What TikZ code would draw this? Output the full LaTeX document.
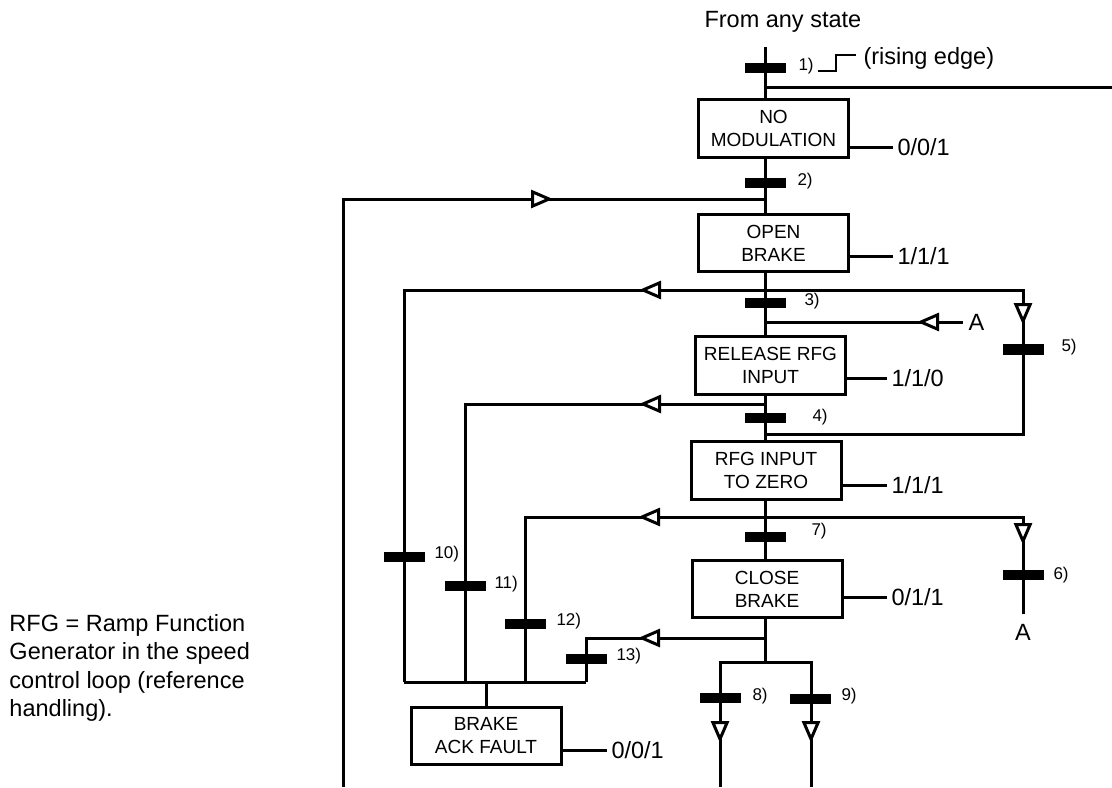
\documentclass[tikz,border=0pt]{standalone}
\usepackage{fontspec}
\setmainfont{Liberation Sans}
\usetikzlibrary{arrows.meta, decorations.markings}

\begin{document}
\begin{tikzpicture}[
    x=0.5pt, y=-0.5pt,
    line width=1.5pt,
    font=\fontsize{11.75}{14.2}\selectfont,
    state/.style={draw, fill=white, minimum width=75pt, minimum height=28.6pt,
        inner sep=0pt, align=center, font=\fontsize{9.5}{11.5}\selectfont},
    trans/.style={fill=black, minimum width=20.5pt, minimum height=5.25pt, inner sep=0pt},
    tlabel/.style={anchor=west, inner sep=0pt, font=\fontsize{8.5}{10}\selectfont},
    outval/.style={anchor=west, inner sep=1.5pt},
    tipat/.style={postaction={decorate}, decoration={markings,
        mark=at position #1 with {\arrow{Triangle[fill=white, length=11pt, width=9pt]}}}},
]
\useasboundingbox (0,0) rectangle (1112,787);

% ---- states ----
\node[state] (nomod)  at (773.5,128.5) {NO\\MODULATION};
\node[state] (openb)  at (773.5,243)   {OPEN\\BRAKE};
\node[state] (relin)  at (770.5,365.5) {RELEASE RFG\\INPUT};
\node[state] (rfgz)   at (766,470.5)   {RFG INPUT\\TO ZERO};
\node[state] (closeb) at (767,589)     {CLOSE\\BRAKE};
\node[state] (ackf)   at (486,736)     {BRAKE\\ACK FAULT};

% ---- transitions ----
\foreach \i/\x/\y/\lx/\ly in {1/765/68/797/66, 2/765/183/796/181, 3/765/303/803/301,
    4/765/418/811/417, 5/1023/349.5/1060/347, 6/1023/575/1052/575, 7/765/537/810/531,
    8/720/698/751/696, 9/810/699/840/696, 10/404/557/433/554, 11/465/586/493/584,
    12/525/624/555/621, 13/586/659/615/656}{
    \node[trans] (t\i) at (\x,\y) {};
    \node[tlabel] (l\i) at (\lx,\ly) {\i)};
}

% ---- texts ----
\node[anchor=base west, inner sep=0pt] (from) at (703,27) {From any state};
\node[anchor=base west, inner sep=0pt] (edge-txt) at (862,64) {(rising edge)};
\draw[line width=0.6pt] (818,71) -- (836,71) -- (836,55) -- (856,55);
\node[anchor=west, inner sep=2pt] (ain) at (963,322) {A};
\node[inner sep=4pt] (aout) at (1023,632) {A};
\node[anchor=north west, inner sep=0pt, align=left] (note) at (8,613)
    {RFG = Ramp Function\\Generator in the speed\\control loop (reference\\handling).};

% ---- outputs ----
\foreach \b/\y/\e/\v in {nomod/147/893/{0/0/1}, openb/256/893/{1/1/1}, relin/378/887/{1/1/0},
    rfgz/485/887/{1/1/1}, closeb/597/887/{0/1/1}, ackf/750/607/{0/0/1}}{
    \node[outval] (v-\b) at (\e,\y) {\v};
    \draw (v-\b.west) -- (v-\b.west -| \b.east);
}

% ---- junctions ----
\coordinate (top) at (765,47);
\coordinate (j1) at (765,87);
\coordinate (edge) at (1112,87);
\coordinate (j2) at (765,199);
\coordinate (j3) at (765,290);
\coordinate (j4) at (765,404);
\coordinate (j5) at (765,434);
\coordinate (j7) at (765,517);
\coordinate (j13) at (765,638);
\coordinate (split) at (765,662);
\coordinate (fb) at (343,787);
\coordinate (c5) at (1023,434);
\coordinate (c10) at (404,682);
\coordinate (c11) at (465,682);
\coordinate (c12) at (525,682);
\coordinate (c13) at (586,682);
\coordinate (e8) at (720,787);
\coordinate (e9) at (811,787);

% ---- main line ----
\draw (top) -- (nomod.north -| top);
\draw (j1) -- (edge);
\draw (nomod.south -| top) -- (openb.north -| top);
\draw (openb.south -| top) -- (relin.north -| top);
\draw (relin.south -| top) -- (rfgz.north -| top);
\draw (rfgz.south -| top) -- (closeb.north -| top);
\draw (closeb.south -| top) -- (split);

% ---- branches ----
\draw[tipat=399pt] (fb) |- (j2);
\draw[tipat=63pt] (j3) -| (c10);
\draw[tipat=146.5pt] (j3) -| (c5) -- (j5);
\draw[tipat=23pt] (ain.west) -- (ain.west -| top);
\draw[tipat=63pt] (j4) -| (c11);
\draw[tipat=63.5pt] (j7) -| (c12);
\draw[tipat=143pt] (j7) -| (aout.north);
\draw[tipat=63.5pt] (j13) -| (c13);
\draw (c10) -- (c13);
\draw (ackf.north) -- (ackf.north |- c10);
\draw[tipat=63pt] (split) -| (e8);
\draw[tipat=63.5pt] (split) -| (e9);

\end{tikzpicture}
\end{document}
